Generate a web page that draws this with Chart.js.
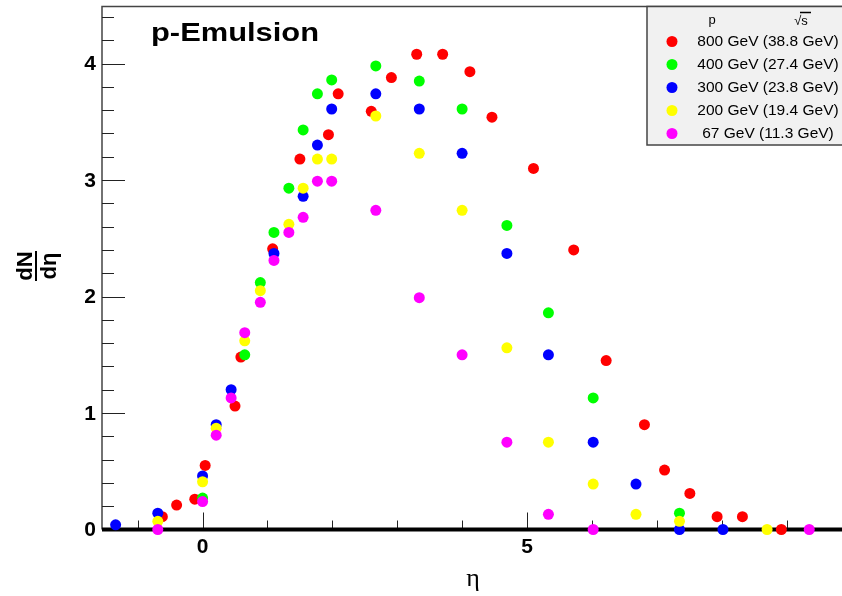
<!DOCTYPE html>
<html>
<head>
<meta charset="utf-8">
<script src="https://cdn.jsdelivr.net/npm/chart.js@4.4.1/dist/chart.umd.min.js"></script>
<style>
  html, body { margin: 0; padding: 0; background: #fff; }
  canvas { display: block; }
</style>
</head>
<body>
<canvas id="emulsionChart" width="842" height="596"></canvas>
<script>
// dN/deta vs eta, p-Emulsion, five beam momenta
const seriesLabels = ['800 GeV (38.8 GeV)', '400 GeV (27.4 GeV)', '300 GeV (23.8 GeV)', '200 GeV (19.4 GeV)', '67 GeV (11.3 GeV)'];
const seriesColors = ['#ff0000', '#00ff00', '#0000ff', '#ffff00', '#ff00ff'];

const eta800 = [-0.62, -0.40, -0.12, 0.04, 0.50, 0.59, 1.08, 1.50, 1.94, 2.09, 2.60, 2.91, 3.30, 3.70, 4.12, 4.46, 5.10, 5.72, 6.22, 6.81, 7.12, 7.51, 7.93, 8.32, 8.92];
const dn800  = [0.11, 0.21, 0.26, 0.55, 1.06, 1.48, 2.41, 3.18, 3.39, 3.74, 3.59, 3.88, 4.08, 4.08, 3.93, 3.54, 3.10, 2.40, 1.45, 0.90, 0.51, 0.31, 0.11, 0.11, 0.0];

const eta400 = [0.00, 0.65, 0.89, 1.10, 1.33, 1.55, 1.77, 1.99, 2.67, 3.34, 4.00, 4.69, 5.33, 6.02, 7.35];
const dn400  = [0.27, 1.50, 2.12, 2.55, 2.93, 3.43, 3.74, 3.86, 3.98, 3.85, 3.61, 2.61, 1.86, 1.13, 0.14];

const eta300 = [-1.34, -0.69, 0.00, 0.21, 0.44, 1.10, 1.55, 1.77, 1.99, 2.67, 3.34, 4.00, 4.69, 5.33, 6.02, 6.68, 7.35, 8.02];
const dn300  = [0.04, 0.14, 0.46, 0.90, 1.20, 2.37, 2.86, 3.30, 3.61, 3.74, 3.61, 3.23, 2.37, 1.50, 0.75, 0.39, 0.0, 0.0];

const eta200 = [-0.69, 0.00, 0.21, 0.65, 0.89, 1.33, 1.55, 1.77, 1.99, 2.67, 3.34, 4.00, 4.69, 5.33, 6.02, 6.68, 7.35, 8.70];
const dn200  = [0.07, 0.41, 0.87, 1.62, 2.05, 2.62, 2.93, 3.18, 3.18, 3.55, 3.23, 2.74, 1.56, 0.75, 0.39, 0.13, 0.07, 0.0];

const eta67 = [-0.69, 0.00, 0.21, 0.44, 0.65, 0.89, 1.10, 1.33, 1.55, 1.77, 1.99, 2.67, 3.34, 4.00, 4.69, 5.33, 6.02, 9.35];
const dn67  = [0.0, 0.24, 0.81, 1.13, 1.69, 1.95, 2.31, 2.55, 2.68, 2.99, 2.99, 2.74, 1.99, 1.50, 0.75, 0.13, 0.0, 0.0];

const xTickLabels = [0, 5];
const yTickLabels = [0, 1, 2, 3, 4];

const allEta = [eta800, eta400, eta300, eta200, eta67];
const allDn = [dn800, dn400, dn300, dn200, dn67];

const datasets = seriesLabels.map((label, i) => ({
    label: label,
    data: allEta[i].map((x, j) => ({ x: x, y: allDn[i][j] })),
    backgroundColor: seriesColors[i],
    borderWidth: 0,
    pointRadius: 5.5,
    pointHoverRadius: 5.5,
    showLine: false,
    clip: false,
    order: 5 - i
}));

// frame, axis line and inward ticks, ROOT style
const frameAndAxes = {
    id: 'frameAndAxes',
    beforeDatasetsDraw(chart) {
        const { ctx, chartArea: a, scales: { x, y } } = chart;
        ctx.save();
        ctx.strokeStyle = '#444';
        ctx.lineWidth = 1.5;
        ctx.beginPath();
        ctx.moveTo(a.left, a.bottom);
        ctx.lineTo(a.left, a.top);
        ctx.lineTo(chart.width, a.top);
        ctx.stroke();

        // y ticks every 0.2, long ones on integers
        ctx.strokeStyle = '#222';
        ctx.lineWidth = 1;
        for (let k = 1; k * 0.2 < y.max; k++) {
            const py = Math.round(y.getPixelForValue(k * 0.2)) + 0.5;
            const len = k % 5 === 0 ? 23 : 12;
            ctx.beginPath();
            ctx.moveTo(a.left, py);
            ctx.lineTo(a.left + len, py);
            ctx.stroke();
        }
        // x ticks every unit
        for (let v = Math.ceil(x.min); v <= x.max; v++) {
            const px = Math.round(x.getPixelForValue(v)) + 0.5;
            const len = v % 5 === 0 ? 17 : 9;
            ctx.beginPath();
            ctx.moveTo(px, a.bottom);
            ctx.lineTo(px, a.bottom - len);
            ctx.stroke();
        }

        ctx.fillStyle = '#000';
        ctx.fillRect(a.left, a.bottom - 2, chart.width - a.left, 4);
        ctx.restore();
    },
    afterDraw(chart) {
        const { ctx, chartArea: a, scales: { x, y } } = chart;
        ctx.save();
        ctx.fillStyle = '#000';

        ctx.font = 'bold 21px "Liberation Sans", Arial, sans-serif';
        ctx.textAlign = 'right';
        ctx.textBaseline = 'middle';
        yTickLabels.forEach(v => ctx.fillText(String(v), 96, y.getPixelForValue(v) + 1));
        ctx.textAlign = 'center';
        ctx.textBaseline = 'top';
        xTickLabels.forEach(v => ctx.fillText(String(v), x.getPixelForValue(v), 537));

        // x title
        ctx.font = '26px "Liberation Serif", "DejaVu Serif", serif';
        ctx.textBaseline = 'alphabetic';
        ctx.fillText('\u03b7', 473, 586);

        // y title: dN / d-eta fraction, rotated
        ctx.save();
        ctx.translate(36, 266);
        ctx.rotate(-Math.PI / 2);
        ctx.font = 'bold 22px "Liberation Sans", Arial, sans-serif';
        ctx.textAlign = 'center';
        ctx.textBaseline = 'alphabetic';
        ctx.fillText('dN', 0, -4);
        ctx.textBaseline = 'top';
        ctx.fillText('d\u03b7', 0, 3);
        ctx.fillRect(-15, -1, 30, 2);
        ctx.restore();

        // title
        ctx.save();
        ctx.font = 'bold 25px "Liberation Sans", Arial, sans-serif';
        ctx.textAlign = 'left';
        ctx.textBaseline = 'alphabetic';
        const w = ctx.measureText('p-Emulsion').width;
        ctx.translate(151, 41);
        ctx.scale(168 / w, 1);
        ctx.fillText('p-Emulsion', 0, 0);
        ctx.restore();

        // legend box
        ctx.fillStyle = '#f1f1f1';
        ctx.fillRect(647, 6.5, 200, 138.5);
        ctx.strokeStyle = '#444';
        ctx.lineWidth = 1.5;
        ctx.strokeRect(647, 6.5, 200, 138.5);

        ctx.fillStyle = '#000';
        ctx.font = '13px "Liberation Sans", Arial, sans-serif';
        ctx.textAlign = 'center';
        ctx.textBaseline = 'middle';
        ctx.fillText('p', 712, 20);
        ctx.fillText('\u221as', 801, 21);
        ctx.lineWidth = 1.5;
        ctx.strokeStyle = '#000';
        ctx.beginPath();
        ctx.moveTo(800, 12.5);
        ctx.lineTo(811, 12.5);
        ctx.stroke();

        ctx.font = '15.5px "Liberation Sans", Arial, sans-serif';
        seriesLabels.forEach((label, i) => {
            const ly = 41.5 + 23 * i;
            ctx.fillStyle = seriesColors[i];
            ctx.beginPath();
            ctx.arc(672, ly, 5.5, 0, Math.PI * 2);
            ctx.fill();
            ctx.fillStyle = '#000';
            ctx.fillText(label, 768, ly);
        });
        ctx.restore();
    }
};

new Chart(document.getElementById('emulsionChart'), {
    type: 'scatter',
    data: { datasets: datasets },
    options: {
        responsive: false,
        animation: false,
        devicePixelRatio: 1,
        layout: { padding: { left: 102, right: 0, top: 6.5, bottom: 66.5 } },
        plugins: {
            legend: { display: false },
            tooltip: { enabled: false }
        },
        scales: {
            x: { type: 'linear', min: -1.55, max: 9.77, display: false },
            y: { type: 'linear', min: 0, max: 4.49, display: false }
        }
    },
    plugins: [frameAndAxes]
});
</script>
</body>
</html>
